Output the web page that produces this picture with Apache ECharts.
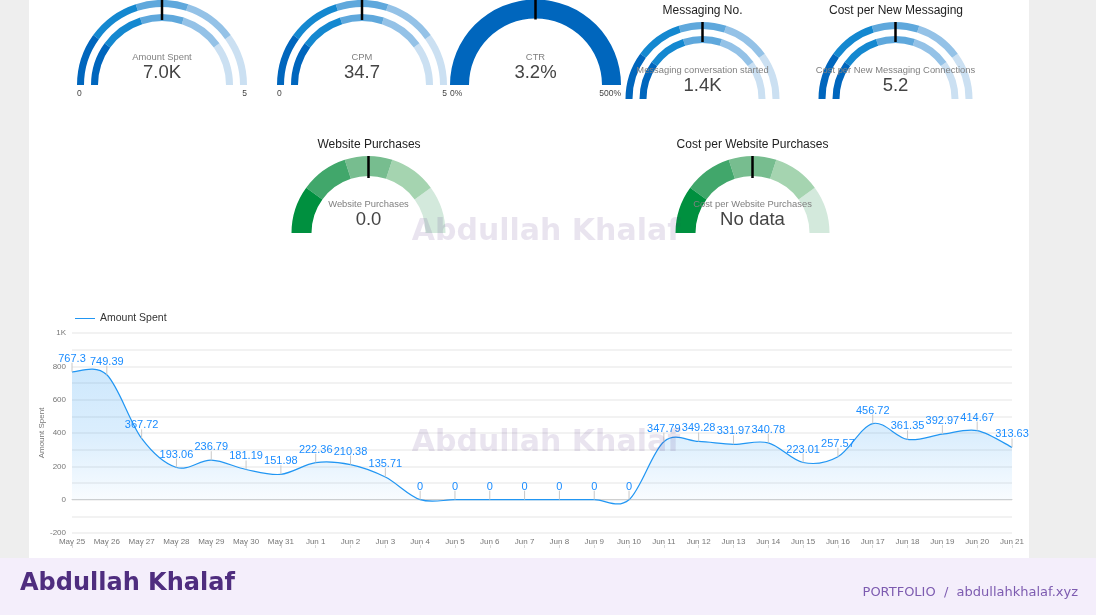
<!DOCTYPE html>
<html lang="en">
<head>
    <meta charset="UTF-8">
    <title>Amount Spent dashboard</title>
    <script type="text/javascript" src="https://cdn.jsdelivr.net/npm/echarts@6/dist/echarts.min.js"></script>
    <style>
        html, body { margin: 0; padding: 0; background: #eeeeee; overflow: hidden; }
        #main { width: 1096px; height: 615px; }
    </style>
</head>
<body>
<div id="main"></div>
<script>
    // line chart data
    var days = ['May 25', 'May 26', 'May 27', 'May 28', 'May 29', 'May 30', 'May 31', 'Jun 1', 'Jun 2', 'Jun 3', 'Jun 4', 'Jun 5', 'Jun 6', 'Jun 7',
        'Jun 8', 'Jun 9', 'Jun 10', 'Jun 11', 'Jun 12', 'Jun 13', 'Jun 14', 'Jun 15', 'Jun 16', 'Jun 17', 'Jun 18', 'Jun 19', 'Jun 20', 'Jun 21'];
    var amountSpent = [767.3, 749.39, 367.72, 193.06, 236.79, 181.19, 151.98, 222.36, 210.38, 135.71, 0, 0, 0, 0,
        0, 0, 0, 347.79, 349.28, 331.97, 340.78, 223.01, 257.57, 456.72, 361.35, 392.97, 414.67, 313.63];

    // gauges
    var gaugeHeads = ['', '', '', 'Messaging No.', 'Cost per New Messaging', 'Website Purchases', 'Cost per Website Purchases'];
    var gaugeNames = ['Amount Spent', 'CPM', 'CTR', 'Messaging conversation started', 'Cost per New Messaging Connections', 'Website Purchases', 'Cost per Website Purchases'];
    var gaugeTexts = ['7.0K', '34.7', '3.2%', '1.4K', '5.2', '0.0', 'No data'];
    var gaugeTargets = [50, 50, 50, 50, 50, 50, 50];

    var blues = ['#0066bd', '#1488d0', '#5fa8dc', '#94c2e7', '#cbe0f2'];
    var greens = ['#00903f', '#41a76b', '#77bd8f', '#a5d4b0', '#d3e9dc'];

    var FONT = '"Liberation Sans", Arial, sans-serif';
    var series = [];
    var graphics = [];

    function stops(colors) {
        return colors.map(function (c, i) {
            return [(i + 1) / colors.length, c];
        });
    }

    // tickTop is the radius the black target tick starts from, 0 for no tick
    function addRing(i, cx, cy, r, w, colors, showText, nameY, textY, tickTop, tickLen) {
        series.push({
            type: 'gauge',
            silent: true,
            center: [cx, cy],
            radius: r,
            startAngle: 180,
            endAngle: 0,
            min: 0,
            max: 100,
            axisLine: {lineStyle: {width: w, color: stops(colors)}},
            axisTick: {show: false},
            splitLine: {show: false},
            axisLabel: {show: false},
            anchor: {show: false},
            pointer: {
                show: tickTop > 0,
                icon: 'rect',
                width: 2.5,
                length: tickLen,
                offsetCenter: [0, -(tickTop - tickLen)],
                itemStyle: {color: '#000'}
            },
            title: {
                show: showText,
                offsetCenter: [0, nameY],
                fontFamily: FONT,
                fontSize: 9.4,
                color: '#808080'
            },
            detail: {
                show: showText,
                offsetCenter: [0, textY],
                fontFamily: FONT,
                fontSize: 18.5,
                fontWeight: 'normal',
                color: '#444',
                formatter: function () { return gaugeTexts[i]; }
            },
            data: [{value: gaugeTargets[i], name: gaugeNames[i]}],
            z: 3
        });
    }

    function addText(text, x, y, size, color, align, extra) {
        graphics.push({
            type: 'text',
            x: x,
            y: y,
            z: 5,
            silent: true,
            style: Object.assign({
                text: text,
                fill: color,
                font: size + 'px ' + FONT,
                align: align,
                verticalAlign: 'middle'
            }, extra || {})
        });
    }

    // double ring gauges
    addRing(0, 162, 85, 85, 7, blues, false, 0, 0, 0, 0);
    addRing(0, 162, 85, 71, 7, blues, true, -28, -12, 85, 20);
    addRing(1, 362, 85, 85, 7, blues, false, 0, 0, 0, 0);
    addRing(1, 362, 85, 71, 7, blues, true, -28, -12, 85, 20);
    addRing(3, 702.5, 99, 77, 7, blues, false, 0, 0, 0, 0);
    addRing(3, 702.5, 99, 63, 7, blues, true, -29, -13, 77, 20);
    addRing(4, 895.5, 99, 77, 7, blues, false, 0, 0, 0, 0);
    addRing(4, 895.5, 99, 63, 7, blues, true, -29, -13, 77, 20);
    // single ring gauges
    addRing(2, 535.5, 85, 85.5, 19, ['#0066bd'], true, -28, -12, 85.5, 20);
    addRing(5, 368.5, 233, 77, 20, greens, true, -29, -13, 77, 22);
    addRing(6, 752.5, 233, 77, 20, greens, true, -29, -13, 77, 22);

    // page panels
    graphics.push({type: 'rect', shape: {x: 29, y: 0, width: 1000, height: 558}, z: 0, silent: true, style: {fill: '#fff'}});
    graphics.push({type: 'rect', shape: {x: 0, y: 558, width: 1096, height: 57}, z: 4, silent: true, style: {fill: '#f4eefb'}});

    // gauge heads and end labels
    addText(gaugeHeads[3], 702.5, 11, 12, '#222', 'center');
    addText(gaugeHeads[4], 896, 11, 12, '#222', 'center');
    addText(gaugeHeads[5], 369, 145, 12, '#222', 'center');
    addText(gaugeHeads[6], 752.5, 145, 12, '#222', 'center');
    addText('0', 77, 94, 8.5, '#444', 'left');
    addText('5', 247, 94, 8.5, '#444', 'right');
    addText('0', 277, 94, 8.5, '#444', 'left');
    addText('5', 447, 94, 8.5, '#444', 'right');
    addText('0%', 450, 94, 8.5, '#444', 'left');
    addText('500%', 621, 94, 8.5, '#444', 'right');

    // watermarks and footer
    var WM = 'bold 30px "DejaVu Sans"';
    addText('Abdullah Khalaf', 546, 232, 30, 'rgba(84,48,130,0.13)', 'center', {font: WM});
    addText('Abdullah Khalaf', 546, 443, 30, 'rgba(84,48,130,0.13)', 'center', {font: WM});
    addText('Abdullah Khalaf', 20, 584, 24, '#4f2d7f', 'left', {font: 'bold 24px "DejaVu Sans"'});
    addText('PORTFOLIO  /  abdullahkhalaf.xyz', 1078, 593, 13, '#7d5bb0', 'right', {font: '13px "DejaVu Sans"'});

    // catmull-rom through the data points, ends the same way as the source chart
    function curvePath(pts) {
        var d = [['M', pts[0][0], pts[0][1]]];
        for (var i = 0; i < pts.length - 1; i++) {
            var p0 = pts[Math.max(i - 1, 0)];
            var p1 = pts[i];
            var p2 = pts[i + 1];
            var p3 = pts[Math.min(i + 2, pts.length - 1)];
            d.push(['C', p1[0] + (p2[0] - p0[0]) / 6, p1[1] + (p2[1] - p0[1]) / 6,
                p2[0] - (p3[0] - p1[0]) / 6, p2[1] - (p3[1] - p1[1]) / 6,
                p2[0], p2[1]]);
        }
        return d;
    }

    function toSvg(d) {
        return d.map(function (s) { return s.join(' '); }).join(' ');
    }

    function renderPoint(params, api) {
        var idx = params.dataIndex;
        var pt = api.coord([idx, api.value(1)]);
        var children = [];
        if (idx === 0) {
            var pts = amountSpent.map(function (v, i) { return api.coord([i, v]); });
            var zero = api.coord([0, 0])[1];
            var d = curvePath(pts);
            var area = d.concat([['L', pts[pts.length - 1][0], zero], ['L', pts[0][0], zero], ['Z']]);
            children.push({
                type: 'path',
                shape: {pathData: toSvg(area)},
                style: {
                    fill: new echarts.graphic.LinearGradient(0, 0, 0, 1, [
                        {offset: 0, color: 'rgba(33,150,243,0.22)'},
                        {offset: 0.5, color: 'rgba(33,150,243,0.16)'},
                        {offset: 1, color: 'rgba(33,150,243,0.02)'}
                    ])
                }
            });
            children.push({
                type: 'path',
                shape: {pathData: toSvg(d)},
                style: {fill: 'none', stroke: '#2196f3', lineWidth: 1.2}
            });
        }
        children.push({
            type: 'line',
            shape: {x1: pt[0], y1: pt[1], x2: pt[0], y2: pt[1] - 9},
            style: {stroke: '#c8c8c8', lineWidth: 1}
        });
        children.push({
            type: 'text',
            z2: 10,
            style: {
                x: pt[0],
                y: pt[1] - 13,
                text: String(amountSpent[idx]),
                fill: '#1a8cff',
                font: '11px ' + FONT,
                align: 'center',
                verticalAlign: 'middle'
            }
        });
        return {type: 'group', children: children};
    }

    series.push({
        name: 'Amount Spent',
        type: 'custom',
        coordinateSystem: 'cartesian2d',
        clip: false,
        silent: true,
        itemStyle: {color: '#2196f3'},
        renderItem: renderPoint,
        data: amountSpent.map(function (v, i) { return [i, v]; }),
        encode: {x: 0, y: 1},
        z: 2
    });

    var option = {
        animation: false,
        textStyle: {fontFamily: FONT},
        legend: {
            data: ['Amount Spent'],
            left: 70,
            top: 308,
            icon: 'rect',
            itemWidth: 20,
            itemHeight: 1,
            itemGap: 5,
            itemStyle: {color: '#2196f3', borderWidth: 0},
            textStyle: {fontSize: 10.5, color: '#333', fontFamily: FONT}
        },
        grid: {left: 72, right: 84, top: 333, bottom: 82},
        xAxis: [{
            type: 'category',
            data: days,
            boundaryGap: false,
            axisLine: {onZero: true, lineStyle: {color: '#d0d0d0'}},
            axisTick: {show: false},
            axisLabel: {interval: 0, fontSize: 8, color: '#777', margin: 5, showMinLabel: true, showMaxLabel: true},
            position: 'bottom'
        }, {
            // small ticks under the day labels
            type: 'category',
            data: days,
            boundaryGap: false,
            position: 'bottom',
            offset: 12,
            axisLine: {show: false, onZero: false},
            axisTick: {show: true, interval: 0, length: 3, lineStyle: {color: '#d8d8d8'}},
            axisLabel: {show: false},
            splitLine: {show: false}
        }],
        yAxis: {
            type: 'value',
            min: -200,
            max: 1000,
            interval: 100,
            name: 'Amount Spent',
            nameLocation: 'middle',
            nameGap: 26,
            nameMoveOverlap: false,
            nameTextStyle: {fontSize: 8, color: '#777'},
            axisLine: {show: false},
            axisTick: {show: false},
            axisLabel: {
                fontSize: 8,
                color: '#777',
                margin: 6,
                formatter: function (v) {
                    if (v % 200 !== 0) return '';
                    return v === 1000 ? '1K' : String(v);
                }
            },
            splitLine: {lineStyle: {color: '#eeeeee', width: 1.5}}
        },
        graphic: {elements: graphics},
        series: series
    };

    var myChart = echarts.init(document.getElementById('main'));
    myChart.setOption(option);
</script>
</body>
</html>
